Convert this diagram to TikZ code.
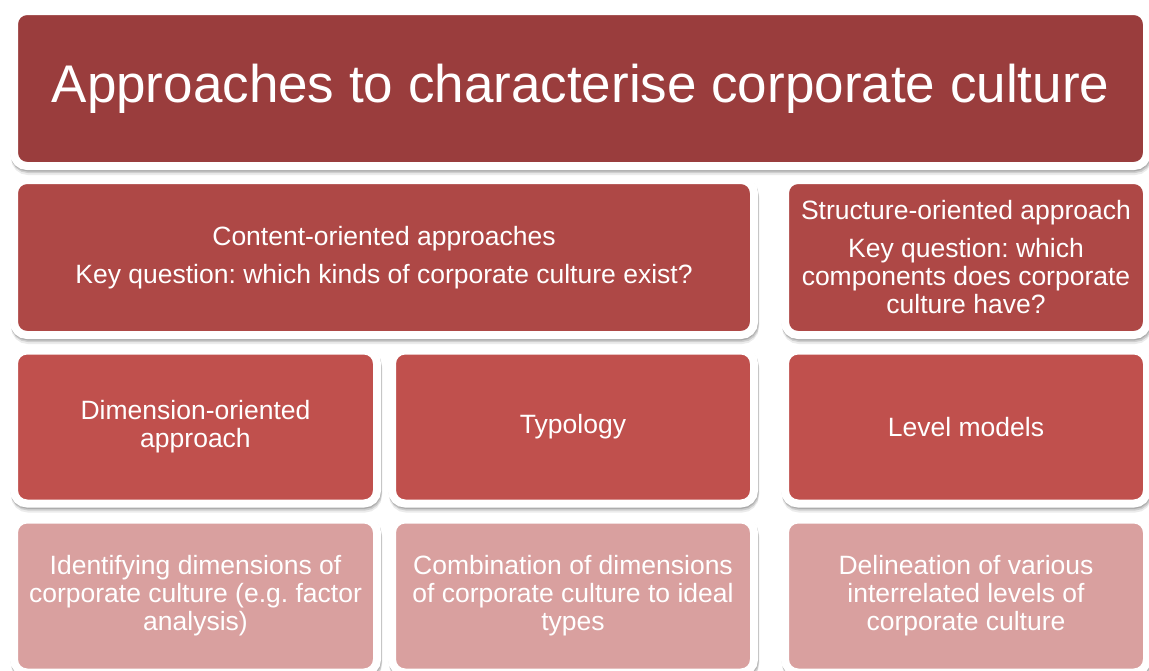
\documentclass[tikz,border=0pt]{standalone}
\usepackage{fontspec}
\setmainfont{Liberation Sans}
\usetikzlibrary{shadows}
\definecolor{ctitle}{RGB}{154,61,61}
\definecolor{crowtwo}{RGB}{174,72,70}
\definecolor{crowthree}{RGB}{192,80,77}
\definecolor{crowfour}{RGB}{217,160,159}
\tikzset{
  x=1pt,y=-1pt,
  boxbase/.style={rectangle, rounded corners=13pt, draw=white, line width=8pt,
    text=white, align=center, inner sep=0pt,
    general shadow={shadow xshift=1pt, shadow yshift=-5pt, opacity=0.08, fill=black, draw=black, line width=8pt},
    general shadow={shadow xshift=1pt, shadow yshift=-3pt, opacity=0.12, fill=black, draw=black, line width=8pt},
    general shadow={shadow xshift=0.5pt, shadow yshift=-1.5pt, opacity=0.12, fill=black, draw=black, line width=8pt},
    font=\fontsize{26.5}{28}\selectfont\frenchspacing},
  titlebox/.style={boxbase, fill=ctitle, minimum width=1133pt, minimum height=155pt,
    font=\fontsize{53}{60}\selectfont},
  boxtwo/.style={boxbase, fill=crowtwo, minimum height=155pt},
  boxthree/.style={boxbase, fill=crowthree, minimum height=153pt},
  boxfour/.style={boxbase, fill=crowfour, minimum height=153pt},
}
\begin{document}
\begin{tikzpicture}
\useasboundingbox (0,0) rectangle (1149,670);
\node[titlebox] (title) at (580.5,88.5) {Approaches to characterise corporate culture};
\node[boxtwo, minimum width=740pt] (content) at (384,257.5)
  {Content-oriented approaches\\[10pt]Key question: which kinds of corporate culture exist?};
\node[boxtwo, minimum width=362pt] (structure) at (966,257.5)
  {Structure-oriented approach\\[10pt]Key question: which\\components does corporate\\culture have?};
\node[boxthree, minimum width=363pt] (dimension) at (195.5,427)
  {Dimension-oriented\\approach};
\node[boxthree, minimum width=362pt] (typology) at (573,427)
  {Typology};
\node[boxthree, minimum width=362pt] (level) at (966,427)
  {Level models};
\node[boxfour, minimum width=363pt] (identify) at (195.5,596)
  {Identifying dimensions of\\corporate culture (e.g. factor\\analysis)};
\node[boxfour, minimum width=362pt] (combination) at (573,596)
  {Combination of dimensions\\of corporate culture to ideal\\types};
\node[boxfour, minimum width=362pt] (delineation) at (966,596)
  {Delineation of various\\interrelated levels of\\corporate culture};
\end{tikzpicture}
\end{document}
